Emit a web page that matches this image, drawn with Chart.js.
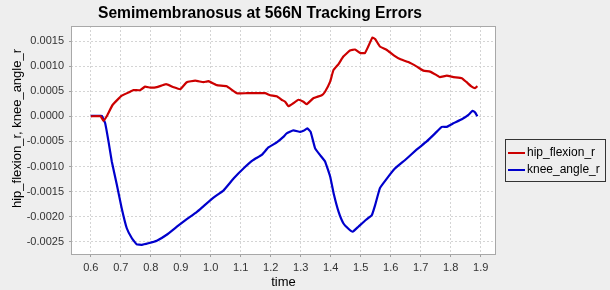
<!DOCTYPE html>
<html>
<head>
<meta charset="utf-8">
<script src="https://cdn.jsdelivr.net/npm/chart.js@4"></script>
<style>
  html, body { margin: 0; padding: 0; background: #eeeeee; }
  #wrap { width: 610px; height: 290px; }
</style>
</head>
<body>
<div id="wrap"><canvas id="grafico" width="610" height="290"></canvas></div>
<script>
// ===== DADOS =====
const titulo = "Semimembranosus at 566N Tracking Errors";
const tituloX = "time";
const tituloY = "hip_flexion_r, knee_angle_r";

const tempoHip = [0.600,0.633,0.642,0.653,0.673,0.703,0.731,0.742,0.764,0.781,0.798,0.820,0.851,0.876,0.898,0.920,0.948,0.976,0.992,1.020,1.053,1.087,1.120,1.181,1.198,1.220,1.236,1.248,1.259,1.275,1.292,1.309,1.320,1.342,1.370,1.381,1.398,1.409,1.426,1.442,1.464,1.481,1.498,1.514,1.525,1.539,1.548,1.564,1.587,1.609,1.631,1.659,1.687,1.709,1.731,1.753,1.764,1.787,1.809,1.837,1.853,1.870,1.881,1.889];
const hipFlexion = [0,0,-0.00009,0,0.00023,0.00041,0.00049,0.00052,0.00052,0.00059,0.00057,0.00058,0.00064,0.00058,0.00054,0.00068,0.00071,0.00068,0.00070,0.00062,0.00060,0.00046,0.00046,0.00046,0.00042,0.00040,0.00033,0.00029,0.00020,0.00026,0.00033,0.00029,0.00024,0.00036,0.00042,0.00049,0.00069,0.00092,0.00104,0.00119,0.00131,0.00133,0.00126,0.00126,0.00139,0.00157,0.00154,0.00139,0.00132,0.00122,0.00114,0.00108,0.00099,0.00091,0.00089,0.00082,0.00078,0.00081,0.00078,0.00076,0.00068,0.00059,0.00056,0.00060];

const tempoKnee = [0.600,0.631,0.637,0.648,0.659,0.670,0.687,0.703,0.720,0.737,0.753,0.770,0.792,0.820,0.853,0.887,0.920,0.953,0.976,1.009,1.042,1.076,1.109,1.142,1.170,1.192,1.220,1.242,1.253,1.275,1.298,1.309,1.322,1.333,1.348,1.364,1.381,1.398,1.411,1.426,1.442,1.459,1.473,1.492,1.514,1.537,1.548,1.564,1.587,1.614,1.648,1.687,1.720,1.748,1.770,1.787,1.809,1.837,1.859,1.873,1.881,1.889];
const kneeAngle = [0.00001,0.00001,0.00001,-0.00014,-0.00050,-0.00090,-0.00137,-0.00183,-0.00223,-0.00243,-0.00255,-0.00256,-0.00253,-0.00248,-0.00236,-0.00220,-0.00205,-0.00191,-0.00179,-0.00162,-0.00148,-0.00124,-0.00104,-0.00087,-0.00077,-0.00062,-0.00052,-0.00041,-0.00034,-0.00028,-0.00031,-0.00029,-0.00024,-0.00031,-0.00064,-0.00077,-0.00090,-0.00120,-0.00157,-0.00190,-0.00213,-0.00224,-0.00230,-0.00220,-0.00208,-0.00197,-0.00177,-0.00143,-0.00124,-0.00104,-0.00087,-0.00066,-0.00050,-0.00034,-0.00021,-0.00021,-0.00014,-0.00006,0.00003,0.00011,0.00008,0.00000];

const ticksX = [0.6,0.7,0.8,0.9,1.0,1.1,1.2,1.3,1.4,1.5,1.6,1.7,1.8,1.9];
const ticksY = [-0.0025,-0.0020,-0.0015,-0.0010,-0.0005,0,0.0005,0.0010,0.0015];

const series = [
  {nome: "hip_flexion_r", cor: "#cc0000", tempo: tempoHip, valores: hipFlexion},
  {nome: "knee_angle_r", cor: "#0000cc", tempo: tempoKnee, valores: kneeAngle}
];

const FONTE = "'Liberation Sans', Arial, sans-serif";

// ===== PLUGIN: fundo, borda, titulo, legenda =====
const extras = {
  id: "extras",
  beforeDraw(chart){
    const {ctx, chartArea: a} = chart;
    ctx.save();
    ctx.fillStyle = "#eeeeee";
    ctx.fillRect(0, 0, chart.width, chart.height);
    ctx.fillStyle = "#ffffff";
    ctx.fillRect(a.left, a.top, a.right - a.left, a.bottom - a.top);
    ctx.restore();
  },
  afterDraw(chart){
    const {ctx, chartArea: a} = chart;
    ctx.save();
    // borda do grafico
    ctx.strokeStyle = "#a8a8a8";
    ctx.lineWidth = 1;
    ctx.strokeRect(a.left + 0.5, a.top + 0.5, a.right - a.left - 1, a.bottom - a.top - 1);

    // titulo
    ctx.fillStyle = "#000000";
    ctx.font = "bold 17px " + FONTE;
    ctx.textAlign = "center";
    ctx.textBaseline = "alphabetic";
    ctx.fillText(titulo, 260, 18, 324);

    // titulo eixo Y
    ctx.font = "13px " + FONTE;
    ctx.translate(17, 128.5);
    ctx.rotate(-Math.PI / 2);
    ctx.textBaseline = "middle";
    ctx.fillText(tituloY, 0, 0);
    ctx.setTransform(1, 0, 0, 1, 0, 0);

    // legenda
    ctx.strokeStyle = "#333333";
    ctx.strokeRect(505.5, 139.5, 100, 42);
    ctx.font = "12px " + FONTE;
    ctx.textAlign = "left";
    ctx.textBaseline = "middle";
    series.forEach((s, i) => {
      const y = 153 + i * 17;
      ctx.strokeStyle = s.cor;
      ctx.lineWidth = 2;
      ctx.beginPath();
      ctx.moveTo(508, y);
      ctx.lineTo(525, y);
      ctx.stroke();
      ctx.fillStyle = "#000000";
      ctx.fillText(s.nome, 527, y);
    });
    ctx.restore();
  }
};

// ===== GRAFICO =====
new Chart(document.getElementById("grafico"), {
  type: "line",
  data: {
    datasets: series.map(s => ({
      label: s.nome,
      data: s.tempo.map((t, i) => ({x: t, y: s.valores[i]})),
      borderColor: s.cor,
      backgroundColor: s.cor,
      borderWidth: 2.2,
      pointRadius: 0,
      tension: 0.1,
      fill: false
    }))
  },
  options: {
    responsive: false,
    animation: false,
    layout: { padding: { top: 26, right: 114, left: 0, bottom: 0 } },
    plugins: { legend: { display: false }, title: { display: false }, tooltip: { enabled: false } },
    scales: {
      x: {
        type: "linear",
        min: 0.534,
        max: 1.951,
        afterBuildTicks: sc => { sc.ticks = ticksX.map(v => ({value: v})); },
        afterFit: sc => { sc.height = 35; },
        grid: { color: "#d4d4d4", tickColor: "#a0a0a0", tickLength: 2, drawTicks: true },
        border: { display: false, dash: [2, 2] },
        ticks: { color: "#333333", font: { family: FONTE, size: 11 }, padding: 4, maxRotation: 0, autoSkip: false,
                 callback: v => v.toFixed(1) },
        title: { display: true, text: tituloX, color: "#000000", font: { family: FONTE, size: 13 }, padding: { top: 0, bottom: 0 } }
      },
      y: {
        type: "linear",
        min: -0.002763,
        max: 0.001799,
        afterBuildTicks: sc => { sc.ticks = ticksY.map(v => ({value: v})); },
        afterFit: sc => { sc.width = 71; },
        grid: { color: "#d4d4d4", tickColor: "#a0a0a0", tickLength: 2, drawTicks: true },
        border: { display: false, dash: [2, 2] },
        ticks: { color: "#333333", font: { family: FONTE, size: 11 }, padding: 5, autoSkip: false,
                 callback: v => v.toFixed(4) }
      }
    }
  },
  plugins: [extras]
});
</script>
</body>
</html>
